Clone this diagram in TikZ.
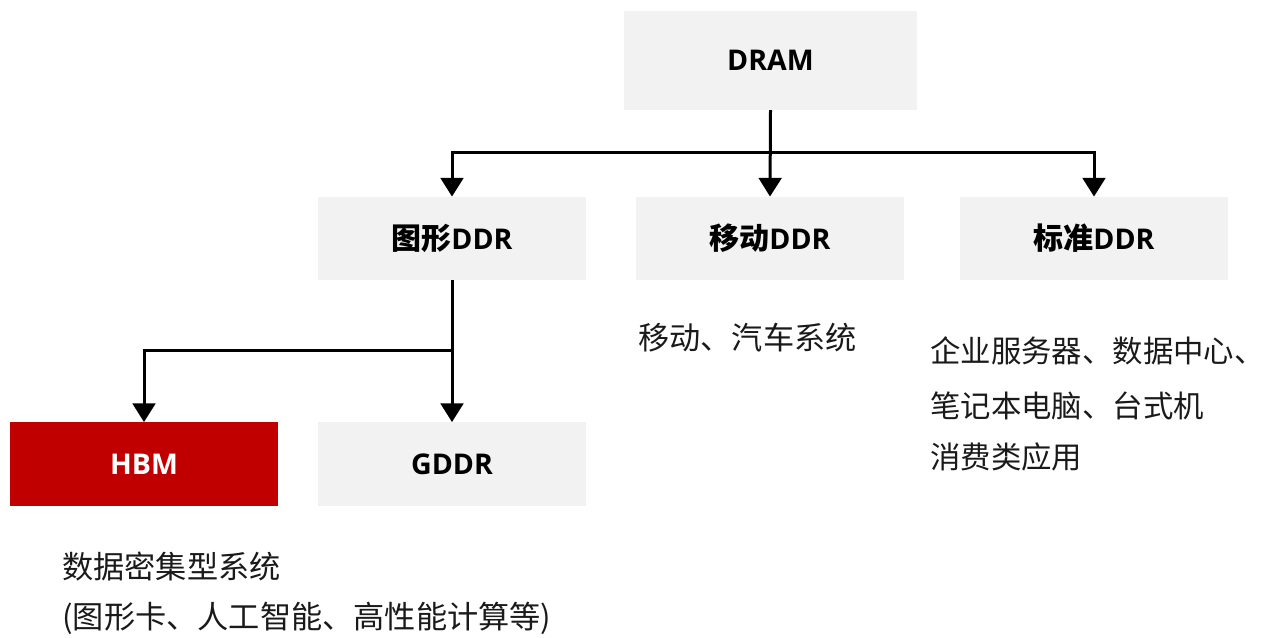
\documentclass[tikz,border=0pt]{standalone}
\usepackage{fontspec}
\setmainfont{Open Sans}
\newfontfamily\cjk{Noto Sans CJK SC}
\usetikzlibrary{arrows.meta}
\definecolor{boxgray}{HTML}{F2F2F2}
\definecolor{hbmred}{HTML}{C00000}
\definecolor{txt}{HTML}{1A1A1A}
\newcommand{\bc}[1]{{\cjk\bfseries\fontsize{22.5}{26}\selectfont #1}}
\begin{document}
\begin{tikzpicture}[x=0.75pt,y=-0.75pt,
  box/.style={rectangle,fill=boxgray,minimum width=201pt,minimum height=62.5pt,inner sep=0pt,font=\fontsize{21.4}{24}\selectfont\bfseries,text=black},
  arr/.style={line width=2.25pt,-{Triangle[length=14pt,width=17pt]}},
  desc/.style={anchor=west,inner sep=0pt,font=\cjk\fontsize{23.4}{27}\selectfont,text=txt}]
\useasboundingbox (0,0) rectangle (1266,638);
\node[box,minimum width=219.75pt,minimum height=74.25pt] (dram) at (770.5,60.5) {DRAM};
\node[box] (gfx) at (452,238.5) {\bc{图形}DDR};
\node[box] (mob) at (770,238.5) {\bc{移动}DDR};
\node[box] (std) at (1094,238.5) {\bc{标准}DDR};
\node[box,fill=hbmred,text=white] (hbm) at (144,464) {HBM};
\node[box] (gddr) at (452,464) {GDDR};
\coordinate (bus1) at (0,153);
\coordinate (bus2) at (0,350);
\draw[arr] (dram.south) -- (mob.north);
\draw[arr] (dram.south) -- (dram.south |- bus1) -| (gfx.north);
\draw[arr] (dram.south) -- (dram.south |- bus1) -| (std.north);
\draw[arr] (gfx.south) -- (gddr.north);
\draw[arr] (gfx.south) -- (gfx.south |- bus2) -| (hbm.north);
\node[desc] (t1) at (638,338) {移动、汽车系统};
\node[desc,font=\cjk\fontsize{22.8}{27}\selectfont] (t2) at (930,351) {企业服务器、数据中心、};
\node[desc,font=\cjk\fontsize{22.8}{27}\selectfont] (t3) at (930,406) {笔记本电脑、台式机};
\node[desc,font=\cjk\fontsize{22.8}{27}\selectfont] (t4) at (930,457) {消费类应用};
\node[desc] (t5) at (62,567) {数据密集型系统};
\node[desc] (t6) at (62,618) {(图形卡、人工智能、高性能计算等)};
\end{tikzpicture}
\end{document}
